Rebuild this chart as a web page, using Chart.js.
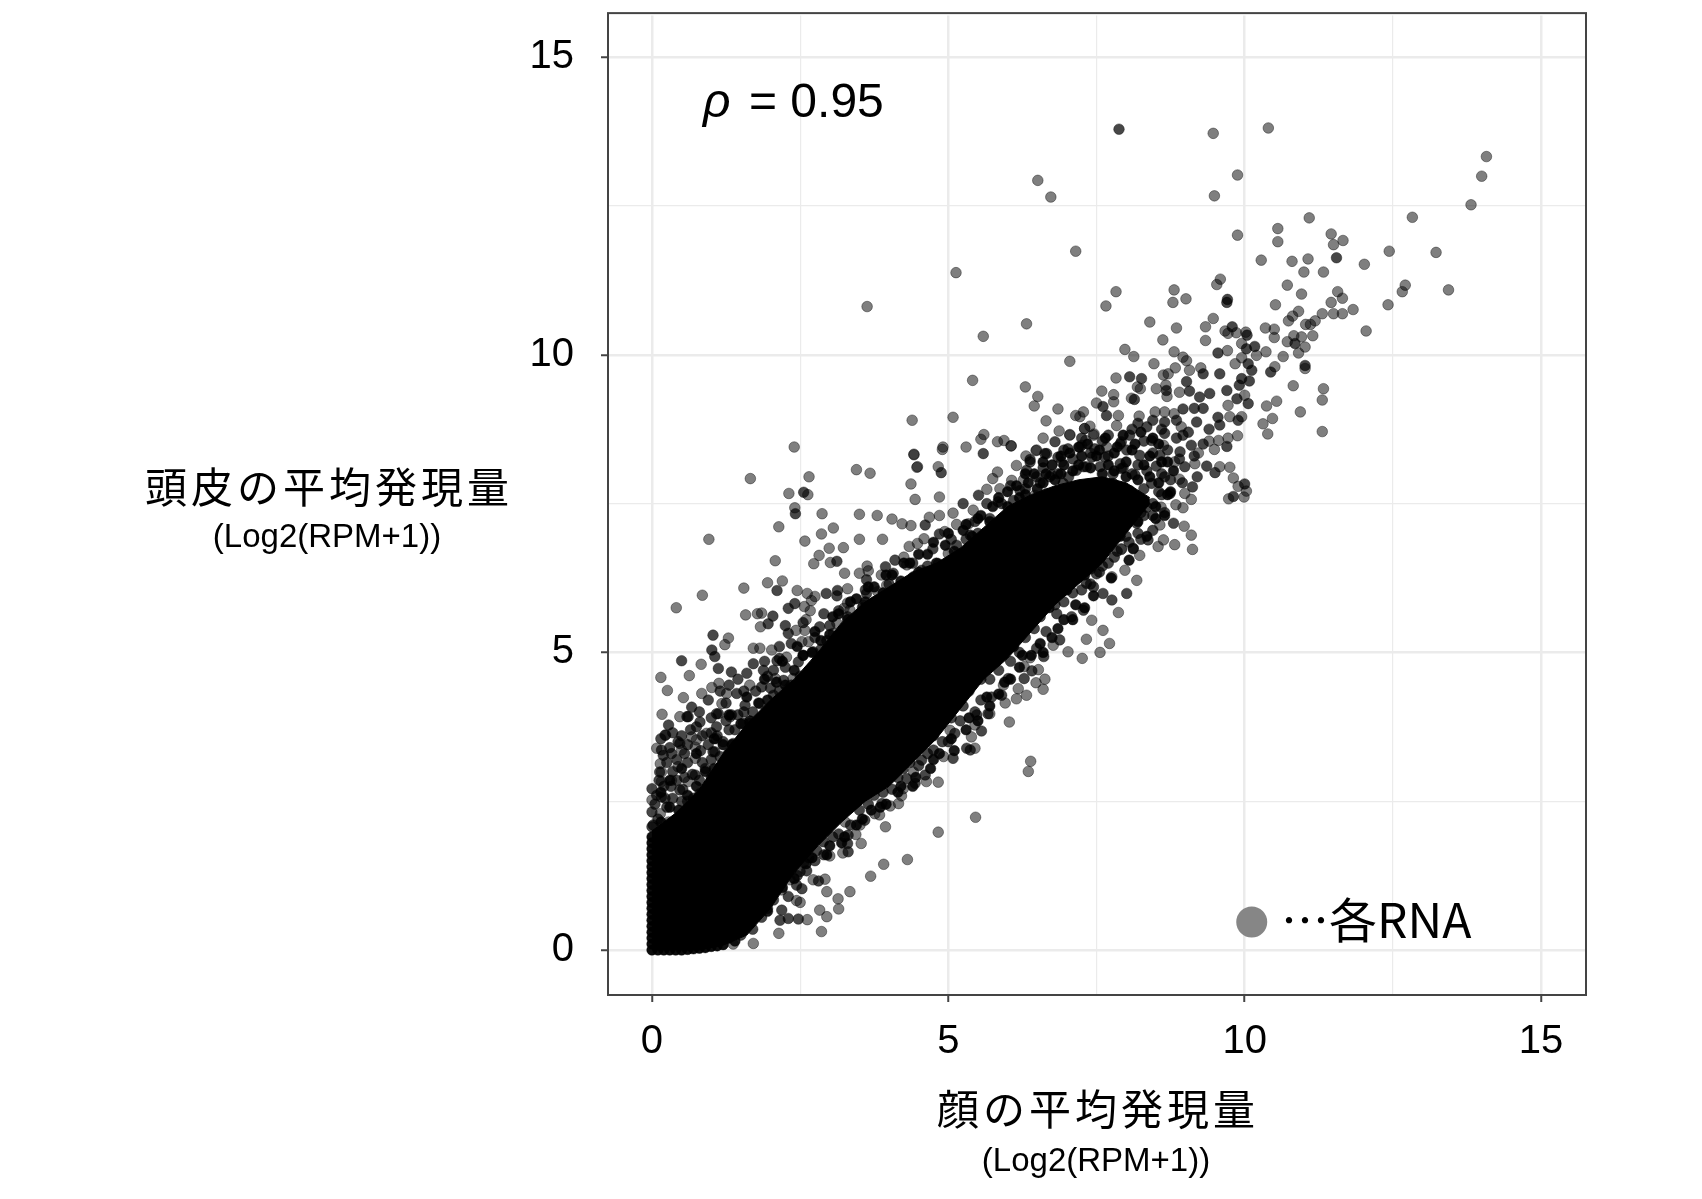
<!DOCTYPE html>
<html lang="ja">
<head>
<meta charset="utf-8">
<title>頭皮と顔の平均発現量</title>
<script src="https://cdn.jsdelivr.net/npm/chart.js@4/dist/chart.umd.min.js"></script>
<style>
  html, body { margin: 0; padding: 0; background: #fff; }
  canvas { display: block; }
</style>
</head>
<body>
<canvas id="grafico" width="1702" height="1199"></canvas>
<script>
// ── Dados ────────────────────────────────────────────────────────
const xTicks = [0, 2.5, 5, 7.5, 10, 12.5, 15];
const yTicks = [0, 2.5, 5, 7.5, 10, 12.5, 15];

// RNAs isolados [rosto, couro cabeludo]
const rnaPoints = [
  [9.47,13.72],[10.40,13.81],[14.08,13.33],[14.00,13.00],[6.51,12.93],[6.73,12.65],[9.88,13.02],[9.49,12.67],
  [13.82,12.52],[11.09,12.30],[12.83,12.31],[10.56,12.12],[10.56,11.90],[9.88,12.01],[11.46,12.03],[11.66,11.92],
  [11.50,11.85],[7.15,11.74],[12.44,11.74],[13.23,11.72],[10.28,11.59],[10.80,11.57],[11.07,11.61],[12.02,11.52],
  [11.00,11.39],[11.33,11.39],[9.59,11.27],[9.53,11.18],[10.72,11.17],[12.71,11.17],[12.66,11.06],[13.44,11.09],
  [11.57,11.06],[11.65,10.95],[7.83,11.06],[8.81,11.09],[9.01,10.94],[8.79,10.88],[7.66,10.82],[10.96,11.02],
  [11.46,10.88],[10.52,10.84],[12.42,10.84],[11.31,10.69],[11.50,10.69],[11.65,10.69],[11.83,10.76],[10.91,10.73],
  [10.81,10.65],[10.74,10.57],[11.19,10.57],[11.11,10.51],[11.03,10.51],[6.32,10.52],[8.40,10.55],[9.47,10.61],
  [9.34,10.47],[8.85,10.45],[9.67,10.40],[9.72,10.36],[9.86,10.37],[10.02,10.38],[10.35,10.45],[10.50,10.43],
  [10.50,10.29],[12.05,10.40],[10.83,10.32],[10.96,10.30],[11.15,10.32],[10.72,10.22],[11.02,10.13],[10.91,10.03],
  [10.65,9.97],[10.36,10.05],[9.34,10.24],[8.62,10.25],[8.81,10.05],[7.98,10.09],[8.13,9.97],[7.05,9.89],
  [8.47,9.85],[9.71,10.07],[9.95,10.19],[10.20,9.99],[9.95,9.95],[9.84,9.85],[8.96,9.96],[9.02,9.90],
  [8.83,9.78],[9.07,9.74],[8.71,9.68],[8.63,9.66],[9.26,9.78],[7.83,9.61],[6.30,9.46],[6.51,9.30],
  [6.45,9.14],[6.85,9.09],[6.65,8.89],[7.59,9.39],[7.79,9.33],[7.79,9.21],[7.50,9.19],[7.28,9.04],
  [7.15,8.98],[7.22,8.96],[7.87,8.98],[8.19,9.46],[8.24,9.43],[8.09,9.27],[8.51,9.43],[8.69,9.30],
  [8.67,9.49],[8.90,9.37],[10.00,9.32],[9.72,9.15],[8.22,8.97],[8.49,9.04],[8.65,9.04],[8.81,9.01],
  [9.75,8.96],[9.95,8.96],[10.37,9.14],[10.54,9.22],[10.47,8.93],[10.31,8.84],[10.39,8.67],[10.94,9.04],
  [10.82,9.48],[11.33,9.43],[11.31,9.24],[11.31,8.71],[11.02,9.77],[10.51,9.80],[7.05,8.66],[6.87,8.72],
  [6.60,8.60],[7.30,8.76],[7.46,8.67],[7.32,8.56],[6.06,8.47],[6.48,8.39],[6.15,8.14],[7.22,8.45],
  [3.63,10.81],[5.13,11.38],[5.59,10.31],[5.41,9.57],[5.08,8.95],[4.39,8.90],[4.91,8.45],
  [4.42,8.33],[4.47,8.11],[5.55,8.58],[5.60,8.66],[5.94,8.56],[6.31,8.30],[5.30,8.45],
  [2.40,8.45],[1.66,7.92],[2.65,7.95],[3.45,8.07],[3.68,8.01],[4.42,8.32],[4.90,8.41],[4.48,8.12],
  [4.83,8.12],[4.37,7.83],[4.44,7.57],[4.85,7.61],[2.31,7.67],[2.63,7.65],[2.41,7.43],[2.87,7.33],
  [3.50,7.32],[3.80,7.30],[4.05,7.24],[4.22,7.16],[4.37,7.13],[4.68,7.27],[4.85,7.30],[5.08,7.34],
  [5.14,7.15],[2.14,7.11],[0.96,6.90],[2.58,6.87],[2.86,6.99],[3.06,7.09],[3.50,6.90],[3.89,6.90],
  [2.99,6.75],[3.23,6.76],[2.82,6.63],[2.08,6.54],[2.73,6.49],[3.01,6.51],[3.25,6.33],[3.63,6.45],
  [3.65,6.37],[3.50,6.33],[3.87,6.30],[3.96,6.13],[4.25,6.60],[4.34,6.78],[4.48,6.83],[4.59,6.91],
  [4.30,6.47],[4.41,6.27],[4.94,7.03],[5.00,6.66],[5.34,7.16],[5.42,7.39],[5.65,7.74],[5.83,8.54],
  [6.06,8.47],[5.83,8.03],[5.75,7.92],[5.87,7.75],[6.07,7.89],[6.27,7.90],[6.49,8.40],
  [7.05,8.65],[7.25,8.48],[7.45,8.65],[6.91,8.20],[6.46,7.64],[6.66,7.67],[5.59,6.94],
  [1.55,6.08],[0.85,5.96],[0.41,5.75],[1.95,6.17],[2.20,6.20],[2.45,6.04],[2.62,5.99],[2.75,5.94],
  [3.30,6.07],[2.69,5.87],[3.30,5.83],[3.24,5.74],[3.34,5.71],[3.57,5.79],[3.81,6.02],[3.48,5.57],
  [3.85,5.68],[4.07,5.96],[2.57,5.77],[2.67,5.70],[2.60,5.55],[1.58,5.63],[1.78,5.65],[1.85,5.66],
  [1.83,5.43],[2.43,5.37],[2.58,5.37],[3.12,5.49],[2.53,5.18],[2.64,5.18],[3.06,5.32],[3.40,5.37],
  [0.15,4.58],[0.63,4.61],[0.26,4.36],[0.83,4.80],[1.29,5.24],[1.23,5.13],[1.01,4.41],[1.13,4.48],
  [0.84,4.31],[0.53,4.24],[0.17,3.96],[1.32,3.92],[1.26,4.31],[1.18,4.14],[1.71,5.07],[1.82,5.07],
  [2.02,5.04],[2.27,4.92],[1.65,4.45],[2.08,4.56],[2.38,4.56],[1.82,4.14],[2.24,4.23],[0.92,3.64],
  [0.67,3.58],[0.22,3.61],[0.73,3.41],[0.08,3.39],[0.44,3.08],
  [0.47,3.92],[1.09,3.55],[0.75,3.53],[0.50,3.36],[0.73,3.22],[0.14,3.13],[0.16,2.99],
  [0.33,2.85],[0.16,2.83],[0.00,2.52],[0.61,2.83],[0.14,2.29],[0.28,2.15],[1.93,4.03],
  [5.46,2.23],[4.83,1.98],[4.83,2.82],[4.31,1.52],[3.91,1.44],[3.69,1.24],[3.34,0.98],[2.95,0.98],
  [3.14,0.86],[3.15,0.69],[2.83,0.67],[2.95,0.56],[2.86,0.31],[2.62,0.51],[2.14,0.28],[1.71,0.11],
  [1.37,0.10],[2.44,0.83],[2.50,0.80],[2.33,1.18],[2.19,1.01],[2.72,1.18],[2.92,1.19],[2.41,1.43],
  [2.56,1.47],[3.00,1.58],[3.22,1.63],[3.53,1.79],[3.44,1.94],[3.94,2.07],[3.84,2.27],[3.51,2.10],
  [3.26,2.15],[4.02,2.42],[4.21,2.59],[4.24,2.71],[4.16,2.46],[3.76,2.29],[4.63,2.83],[4.41,2.99],
  [4.92,3.25],[5.03,3.69],[5.45,3.39],[5.39,3.58],[5.45,3.78],[5.70,3.97],
  [6.39,3.17],[6.35,3.00],[6.03,3.83],[6.60,4.38],[6.63,4.55],[6.48,4.49],[6.28,4.76],[6.52,4.71],
  [6.38,4.91],[6.32,4.28],[6.15,4.22],[6.18,4.39],[5.96,4.15],[5.93,4.45],[7.02,5.01],[7.26,4.90],
  [7.56,5.00],[7.72,5.15],[7.61,5.37],[7.33,5.22],[6.77,5.12],[7.42,5.54],[7.87,5.67],[7.98,6.38],
  [8.18,6.21],[7.76,6.27],[7.92,6.74],
  [7.84,8.81],[8.93,8.79],[7.39,8.80],[7.30,8.76],[8.63,8.48],
  [9.72,8.60],[9.88,8.64],[9.40,8.55],[9.56,8.56],[9.49,8.41],[7.67,8.45],[9.22,8.35],[9.16,8.17],
  [8.82,8.20],[9.58,8.12],[9.75,8.11],[9.81,7.93],[8.90,7.91],[9.89,7.79],[10.03,7.71],[8.99,7.67],
  [9.10,7.57],[8.84,7.48],[8.96,7.43],[9.73,7.58],[9.99,7.61],[8.59,7.44],[8.57,7.14],[8.98,7.12],
  [9.10,6.97],[8.63,6.89],[8.54,6.78],[8.82,6.81],[9.12,6.73],[7.92,6.73],[8.23,6.63]
];

// RNAs sobrepostos (marcas que se acumulam e escurecem)
const overlapPoints = [
  [7.88,13.79],[11.55,11.63],[9.71,10.93],[9.70,10.88],[9.79,10.47],[10.04,10.33],[10.85,10.19],[9.55,10.03],
  [10.03,10.10],[10.17,10.14],[10.06,9.85],[10.12,9.74],[10.08,9.56],[9.91,9.49],[9.95,9.60],[9.30,9.68],
  [9.58,9.68],[9.02,9.55],[9.07,9.39],[8.06,9.63],[8.26,9.60],[7.61,9.13],[7.67,8.98],[8.14,9.25],
  [8.68,9.40],[9.41,9.35],[9.24,9.29],[9.70,9.40],[9.87,9.26],[10.06,9.18],[8.96,9.09],[11.02,9.82],
  [10.44,9.71],[6.80,8.54],[6.66,8.34],[6.38,8.24],[7.02,8.42],[6.85,8.28],[6.32,8.06],[6.71,7.95],
  [7.00,7.72],[2.56,7.69],[2.42,7.33],[4.88,8.02],[4.61,7.14],[3.12,6.53],[3.62,6.22],[3.94,6.44],
  [4.07,6.33],[4.55,6.38],[4.74,6.74],[4.85,6.99],[4.83,6.49],[5.14,6.80],[5.25,7.50],[5.51,7.64],
  [5.59,8.34],[5.84,7.53],[6.38,8.20],[6.63,8.34],[6.49,7.95],[6.74,7.98],[7.03,7.95],
  [6.21,7.72],[5.79,7.08],[5.37,6.97],[6.01,7.33],[4.63,6.32],[4.86,6.16],[5.25,6.38],[5.08,6.27],
  [5.53,6.60],[5.82,7.05],[6.21,7.33],[6.43,7.50],[6.77,7.61],[7.05,7.72],[7.33,8.12],[7.56,7.84],
  [7.78,8.00],[8.01,8.40],[7.90,8.17],[7.16,8.06],[6.94,7.84],[5.98,6.88],[5.42,6.72],
  [2.11,6.04],[2.94,5.99],[3.13,6.04],[3.12,5.95],[3.62,5.99],[3.73,5.65],[4.04,5.49],[4.21,5.71],
  [4.24,5.88],[2.41,5.82],[2.30,5.74],[2.04,5.61],[1.96,5.48],[2.30,5.32],[2.83,5.43],[3.23,5.26],
  [3.68,5.37],[3.57,5.10],[0.50,4.86],[1.03,5.29],[1.01,5.04],[1.06,4.93],[1.12,4.73],[1.34,4.67],
  [0.67,4.08],[0.61,3.92],[1.12,3.97],[1.57,4.11],[1.43,4.31],[1.71,4.81],[1.88,4.70],[2.11,4.86],
  [2.47,4.84],[2.72,5.01],[1.85,4.42],[2.22,4.53],[2.30,4.39],[2.05,4.28],[2.53,4.23],[1.99,4.03],
  [1.82,3.81],[1.54,3.81],[1.09,3.75],[0.28,3.78],[0.16,3.36],[0.47,3.47],[1.03,3.33],[0.13,2.99],
  [0.73,2.94],[0.00,2.71],[0.16,2.57],[0.00,2.32],[0.02,2.10],[0.23,3.61],[0.59,3.92],
  [0.81,3.83],[1.09,3.97],[1.34,3.95],[0.44,3.50],[0.19,3.27],[0.33,3.30],[1.06,3.33],[0.47,2.69],
  [0.44,2.21],[0.19,1.99],[0.81,2.63],[1.29,3.30],[1.37,3.47],[1.65,3.81],[1.54,3.58],[0.00,2.07],
  [2.47,0.52],[2.30,0.53],[2.16,0.50],[2.19,0.67],[2.05,0.84],[2.53,1.03],[2.44,1.09],[2.81,1.16],
  [2.50,1.32],[2.61,1.33],[3.31,1.65],[3.30,1.79],[2.78,1.67],[2.89,1.82],[3.31,1.93],[3.59,2.18],
  [3.88,2.46],[4.44,2.80],[4.61,2.94],[4.30,2.88],[4.24,3.05],[4.55,3.19],[5.08,3.22],[4.75,3.36],
  [5.37,3.36],[5.56,3.68],[5.11,3.64],[5.48,3.95],[5.31,3.39],
  [6.41,4.69],[6.28,4.56],[5.90,4.28],[6.01,4.56],[5.73,4.25],[5.67,3.97],[6.88,5.21],[6.61,4.93],
  [6.49,5.07],[7.76,5.88],[8.01,5.99],[7.61,5.99],[7.28,5.71],[7.08,5.60],[6.83,5.65],[7.50,6.32],
  [7.33,6.16],[8.12,6.74],
  [8.65,8.87],[9.19,8.87],[9.58,8.82],[9.89,8.90],[8.35,8.79],[8.96,8.65],[8.65,8.68],[8.43,8.56],
  [7.92,8.54],[8.06,8.65],[9.70,8.46],[9.10,8.48],[8.91,8.37],[7.47,8.42],[8.23,8.31],[8.57,8.31],
  [7.64,8.28],[7.42,8.28],[7.28,8.12],[7.56,8.12],[7.92,8.09],[8.51,8.13],[8.99,8.12],[9.36,8.13],
  [9.50,8.02],[8.65,7.95],[8.15,7.98],[8.43,7.84],[9.12,7.78],[10.00,7.83],[8.74,7.67],[9.81,7.62],
  [7.78,7.84],[8.06,7.72],[7.56,7.84],[7.50,7.50],[7.95,7.39],[8.35,7.44],[8.80,7.17],[8.37,6.89],
  [8.12,6.75],[8.18,7.17],[7.90,7.05],[7.56,7.17],[7.67,6.83]
];

// Faixa densa nas bordas do núcleo
const bandPoints = [
  [0.05,2.45],[0.10,2.20],[0.25,2.40],[0.35,2.55],[0.50,2.50],[0.60,2.50],[0.70,2.55],[0.90,2.55],
  [1.00,2.90],[0.90,3.05],[0.60,3.15],[0.35,3.00],[0.20,2.75],[0.55,2.90],[0.85,3.15],[1.15,3.25],
  [1.20,3.50],[0.95,3.45],[0.60,3.45],[0.35,3.65],[0.75,3.75],[1.00,3.65],[1.30,3.70],[1.45,3.95],
  [1.70,4.00],[1.25,4.15],[0.95,4.20],[1.55,4.35],[1.30,4.45],[1.75,4.35],[2.00,4.40],[2.15,4.35],
  [1.95,4.60],[2.35,4.45],[2.50,4.60],[2.70,4.75],[2.25,4.75],[2.55,4.95],[2.85,5.05],[2.95,5.20],
  [2.15,5.10],[2.35,5.15],[2.75,5.25],[3.00,5.45],[2.55,5.50],[2.25,5.45],[3.30,5.60],[3.55,5.75],
  [3.15,5.70],[2.90,5.65],[3.75,5.85],[3.95,5.80],[3.60,6.05],[4.00,6.15],[4.25,6.05],[4.50,6.20],
  [4.65,6.45],[4.40,6.50],[4.75,6.25],[4.10,6.55],[5.00,6.45],[5.20,6.65],[5.30,6.90],[5.05,6.90],
  [5.50,7.00],[5.70,7.25],[5.45,7.20],[5.90,7.50],[5.65,7.50],[6.10,7.55],[6.30,7.75],[6.05,7.80],
  [6.55,7.85],[6.85,8.00],[7.10,8.25],[7.40,8.35],[7.70,8.30],[7.90,8.50],[6.60,8.10],[6.95,8.40],
  [7.25,8.60],[7.60,8.55],
  [1.30,0.20],[1.50,0.25],[1.70,0.35],[1.85,0.55],[1.95,0.70],[2.00,1.00],[2.15,1.20],[2.30,0.90],
  [2.35,1.35],[2.50,1.60],[2.65,1.55],[2.45,1.25],[2.75,1.50],[2.90,1.60],[2.85,2.00],[3.05,1.90],
  [3.15,1.95],[3.35,2.10],[3.50,2.35],[3.65,2.45],[3.45,2.55],[3.75,2.60],[3.90,2.65],[4.05,2.70],
  [4.15,2.90],[4.35,3.15],[4.50,3.10],[4.65,3.30],[4.55,3.55],[4.75,3.60],[4.90,3.50],[5.00,3.50],
  [5.05,3.90],[5.20,3.85],[5.25,4.10],[5.45,4.00],[5.55,4.20],[5.35,4.35],[5.55,4.55],[5.70,4.55],
  [5.85,4.70],[5.80,4.90],[6.05,4.85],[6.20,5.00],[6.00,5.10],[6.30,5.25],[6.45,5.40],[6.65,5.35],
  [6.55,5.60],[6.80,5.80],[6.95,5.85],[7.10,6.00],[7.25,6.05],[7.05,6.25],[7.40,6.40],[7.55,6.35],
  [7.70,6.50],[7.40,6.15],[7.85,6.70],[8.05,6.85],[8.20,7.00],[8.00,7.15],[8.30,7.30],[8.45,7.50],
  [8.55,7.70],[8.30,7.75],[8.10,8.00],[8.35,8.05],[8.60,8.00],
  [0.08,2.60],[0.22,2.55],[0.32,2.75],[0.42,2.85],[0.52,2.70],[0.68,2.95],[0.80,2.85],[0.42,3.20],
  [0.25,3.15],[0.55,3.30],[0.82,3.35],[1.00,3.20],[0.12,2.85],[0.30,3.40],[0.15,3.55],[0.50,3.60],
  [0.65,3.70],[0.85,3.60],[1.10,3.60],[1.25,3.85],[1.40,3.70],[1.55,4.00],[1.00,3.90],[0.80,4.00],
  [1.15,4.35],[1.45,4.55],[1.60,4.65],[1.90,4.85],[2.15,4.90],[2.05,4.70],
  [7.95,8.10],[8.20,8.15],[8.45,8.35],[8.70,8.40],[8.85,8.60],[8.60,8.75],[8.30,8.55],[8.10,8.75],
  [8.90,8.25],[9.15,8.30],[9.30,8.50],[9.05,8.70],[9.40,8.75],[9.55,8.95],[9.30,9.10],[9.15,9.10],
  [8.85,8.90],[8.45,8.90],[8.20,8.85],[7.70,8.65],[8.75,7.90],[8.95,7.85],[9.20,7.95],[8.60,7.65],
  [8.45,7.30],[8.65,7.35],[8.25,7.35],[8.10,7.45],[8.45,7.05],[8.25,6.90],[8.00,6.95],[7.80,6.60],
  [7.60,6.45],[7.45,6.10]
];

// Marcas que recortam a borda do núcleo
const edgePoints = [
  [0.15,2.15],[0.30,2.40],[0.45,2.35],[0.60,2.60],[0.75,2.75],[0.90,3.00],[1.05,3.05],[1.20,3.45],
  [1.35,3.45],[1.50,3.80],[1.65,3.85],[1.80,4.15],[1.95,4.20],[2.10,4.50],[2.25,4.45],[2.40,4.70],
  [2.55,4.95],[2.70,5.00],[2.85,5.20],[3.00,5.30],[3.15,5.65],[3.30,5.55],[3.45,5.90],[3.60,5.85],
  [3.75,6.10],[3.90,6.00],[4.05,6.30],[4.20,6.20],[4.35,6.50],[4.50,6.35],[4.65,6.65],[4.80,6.50],
  [4.95,6.80],[5.10,6.70],[5.25,7.05],[5.40,6.95],[5.55,7.30],[5.70,7.20],[5.85,7.60],[6.00,7.45],
  [6.15,7.80],[6.30,7.65],[6.45,8.00],[6.60,7.85],[6.75,8.15],[6.90,8.00],[7.05,8.35],[7.20,8.15],
  [7.35,8.50],[7.50,8.30],[7.65,8.60],[7.80,8.35],[7.95,8.65],[8.10,8.40],[8.25,8.70],[8.40,8.30],
  [8.55,8.50],[8.70,8.20],
  [6.20,7.60],[6.35,7.85],[6.50,7.75],[6.65,8.00],[6.80,7.90],[6.95,8.15],[7.10,8.05],[7.25,8.30],
  [7.40,8.10],[7.55,8.40],[7.70,8.15],[7.85,8.45],[8.00,8.20],[8.15,8.50],[8.30,8.15],[8.45,8.60],
  [7.60,8.00],[7.80,8.05],[8.00,7.95],[8.20,7.90],[8.40,7.95],[8.60,8.20],[8.80,8.05],[8.55,7.85],
  [8.70,7.65],[8.50,7.25],[7.20,8.45],[6.90,8.30],[6.60,8.20],[6.30,8.00],[6.00,7.70],[5.75,7.45],
  [5.50,7.25],[5.30,7.15],[5.00,7.00],[4.75,6.85],[4.50,6.65],[4.25,6.50],[3.95,6.30],[3.65,6.10],
  [3.35,5.85],[3.05,5.60],[2.75,5.35],[2.45,5.10],[2.20,4.85],[1.90,4.55],[1.60,4.25],[1.30,3.95],
  [1.05,3.55],[0.75,3.30],[0.50,3.05],[0.30,2.85],[0.15,2.65],
  [1.25,0.25],[1.40,0.15],[1.55,0.45],[1.70,0.55],[1.80,0.80],[1.95,0.65],[2.05,1.15],[2.20,1.05],
  [2.25,1.50],[2.40,1.20],[2.55,1.75],[2.70,1.55],[2.85,1.95],[3.00,1.75],[3.10,2.20],[3.25,1.90],
  [3.40,2.45],[3.55,2.20],[3.70,2.70],[3.85,2.40],[4.00,2.95],[4.15,2.65],[4.30,3.20],[4.45,2.90],
  [4.60,3.55],[4.75,3.20],[4.90,3.90],[5.05,3.55],[5.20,4.20],[5.35,3.90],[5.50,4.60],[5.65,4.25],
  [5.80,4.85],[5.95,4.50],[6.10,5.10],[6.25,4.95],[6.40,5.50],[6.55,5.15],[6.70,5.75],[6.85,5.40],
  [7.00,6.05],[7.15,5.80],[7.30,6.30],[7.45,5.95],[7.60,6.65],[7.75,6.25],[7.90,6.95],[8.05,6.55],
  [8.20,7.20],[8.35,6.95],[8.50,7.45],[8.65,7.30],[8.75,7.70],
  [1.60,0.55],[2.10,1.40],[2.35,1.65],[2.60,1.45],[2.95,1.60],[3.20,1.80],[3.45,2.10],[3.70,2.35],
  [3.95,2.45],[4.20,2.75],[4.40,2.75],[4.70,3.05],[4.85,3.30],[5.10,3.35],[5.30,3.70],[5.50,3.85],
  [5.70,4.10],[5.85,4.30],[6.05,4.55],[6.20,4.75],[6.40,4.95],[6.60,5.00],[6.75,5.25],[6.95,5.55],
  [7.10,5.55],[7.30,5.75]
];

// RNAs colados nos eixos (expressão quase zero)
const axisPoints = [
  [0,0],[0,0.1],[0,0.2],[0,0.3],[0,0.4],[0,0.5],[0,0.6],[0,0.7],[0,0.8],[0,0.9],[0,1.0],[0,1.1],
  [0,1.2],[0,1.3],[0,1.4],[0,1.5],[0,1.6],[0,1.7],[0,1.8],[0,1.9],
  [0.1,0],[0.2,0],[0.3,0],[0.4,0],[0.5,0],[0.6,0.01],[0.7,0.02],[0.8,0.03],[0.9,0.04],[1.0,0.06],
  [1.1,0.07],[1.2,0.09]
];

// Núcleo saturado da nuvem: limites
const coreX     = [0, 0.4, 0.8, 1.2, 1.6, 2, 2.4, 2.8, 3.2, 3.6, 4, 4.4, 4.8, 5.2, 5.6, 6, 6.4, 6.8, 7.2, 7.6, 8, 8.4];
const coreUpper = [2.0, 2.3, 2.7, 3.3, 3.8, 4.2, 4.55, 5.0, 5.5, 5.85, 6.1, 6.35, 6.5, 6.75, 7.1, 7.45, 7.65, 7.8, 7.9, 7.95, 7.85, 7.6];
const coreLower = [0, 0, 0, 0.08, 0.25, 0.7, 1.3, 1.75, 2.15, 2.5, 2.75, 3.15, 3.55, 4.05, 4.55, 4.9, 5.35, 5.8, 6.15, 6.5, 7.0, 7.5];

// Marcador da legenda "…各RNA"
const legendDot = [[10.12, 0.47]];

const cinzaGrade = '#ebebeb';
const corEixo    = '#444444';
const fonteLatim = '"Liberation Sans", sans-serif';
const fonteJp    = '"Noto Sans CJK JP", sans-serif';

// ── Textos e moldura ─────────────────────────────────────────────
const molduraETextos = {
  id: 'molduraETextos',
  afterDraw(chart) {
    const { ctx, chartArea: a, scales } = chart;
    const topo = scales.y.getPixelForValue(15.74);
    ctx.save();
    ctx.strokeStyle = corEixo;
    ctx.lineWidth = 2;
    ctx.strokeRect(a.left, topo, a.right - a.left, a.bottom - topo);

    ctx.fillStyle = '#000';
    ctx.textBaseline = 'alphabetic';

    // rótulo do eixo Y (na horizontal, à esquerda)
    ctx.textAlign = 'center';
    ctx.letterSpacing = '4px';
    ctx.font = '42px ' + fonteJp;
    ctx.fillText('頭皮の平均発現量', 329, 503);
    ctx.fillText('顔の平均発現量', 1098, 1125);
    ctx.letterSpacing = '0px';
    ctx.font = '33px ' + fonteLatim;
    ctx.fillText('(Log2(RPM+1))', 327, 547);
    ctx.fillText('(Log2(RPM+1))', 1096, 1171);

    // coeficiente
    ctx.textAlign = 'left';
    ctx.font = 'italic 48px ' + fonteLatim;
    ctx.fillText('ρ', 703, 117);
    ctx.font = '48px ' + fonteLatim;
    ctx.fillText('= 0.95', 749, 117);

    // legenda
    ctx.font = '48px ' + fonteJp;
    ctx.fillText('…各RNA', 1281, 938);
    ctx.restore();
  }
};

function eixo(valores, ehX) {
  return {
    type: 'linear',
    min: ehX ? -0.742 : -0.756,
    max: ehX ? 15.76 : 15.70,
    afterBuildTicks: s => { s.ticks = valores.map(v => ({ value: v })); },
    afterFit: s => {
      if (ehX) s.height = 204; else s.width = 608;
      s.paddingTop = s.paddingBottom = s.paddingLeft = s.paddingRight = 0;
    },
    grid: {
      drawOnChartArea: true,
      color: cinzaGrade,
      lineWidth: c => (c.tick && c.tick.value % 5 === 0 ? 2.5 : 1.2),
      tickLength: 7,
      tickColor: c => (c.tick && c.tick.value % 5 === 0 ? corEixo : 'rgba(0,0,0,0)'),
      tickWidth: 2
    },
    border: { display: false },
    ticks: {
      autoSkip: false,
      maxRotation: 0,
      color: '#000',
      padding: ehX ? 16 : 27,
      font: { size: 40, family: fonteLatim },
      callback: v => (v % 5 === 0 ? String(v) : '')
    }
  };
}

const marca = (lista, cor) => ({
  type: 'scatter',
  data: lista.map(p => ({ x: p[0], y: p[1] })),
  backgroundColor: cor,
  borderColor: 'rgba(0,0,0,0.4)',
  borderWidth: 1,
  pointRadius: 5.3
});

new Chart(document.getElementById('grafico').getContext('2d'), {
  type: 'scatter',
  data: {
    datasets: [
      {
        type: 'scatter',
        data: legendDot.map(p => ({ x: p[0], y: p[1] })),
        backgroundColor: '#868686',
        borderWidth: 0,
        pointRadius: 15.5
      },
      marca(overlapPoints, 'rgba(0,0,0,0.72)'),
      marca(rnaPoints, 'rgba(0,0,0,0.5)'),
      marca(bandPoints, 'rgba(0,0,0,0.72)'),
      marca(edgePoints, 'rgba(0,0,0,0.9)'),
      marca(axisPoints, 'rgba(0,0,0,0.95)'),
      {
        type: 'line',
        data: coreX.map((x, i) => ({ x, y: coreUpper[i] })),
        fill: '+1',
        backgroundColor: '#000',
        borderColor: '#000',
        borderWidth: 1,
        pointRadius: 0,
        tension: 0
      },
      {
        type: 'line',
        data: coreX.map((x, i) => ({ x, y: coreLower[i] })),
        fill: false,
        borderColor: '#000',
        borderWidth: 1,
        pointRadius: 0,
        tension: 0
      }
    ]
  },
  options: {
    responsive: false,
    animation: false,
    layout: { padding: { left: 0, top: 9, right: 116, bottom: 0 } },
    plugins: { legend: { display: false }, tooltip: { enabled: false } },
    scales: { x: eixo(xTicks, true), y: eixo(yTicks, false) }
  },
  plugins: [molduraETextos]
});
</script>
</body>
</html>
